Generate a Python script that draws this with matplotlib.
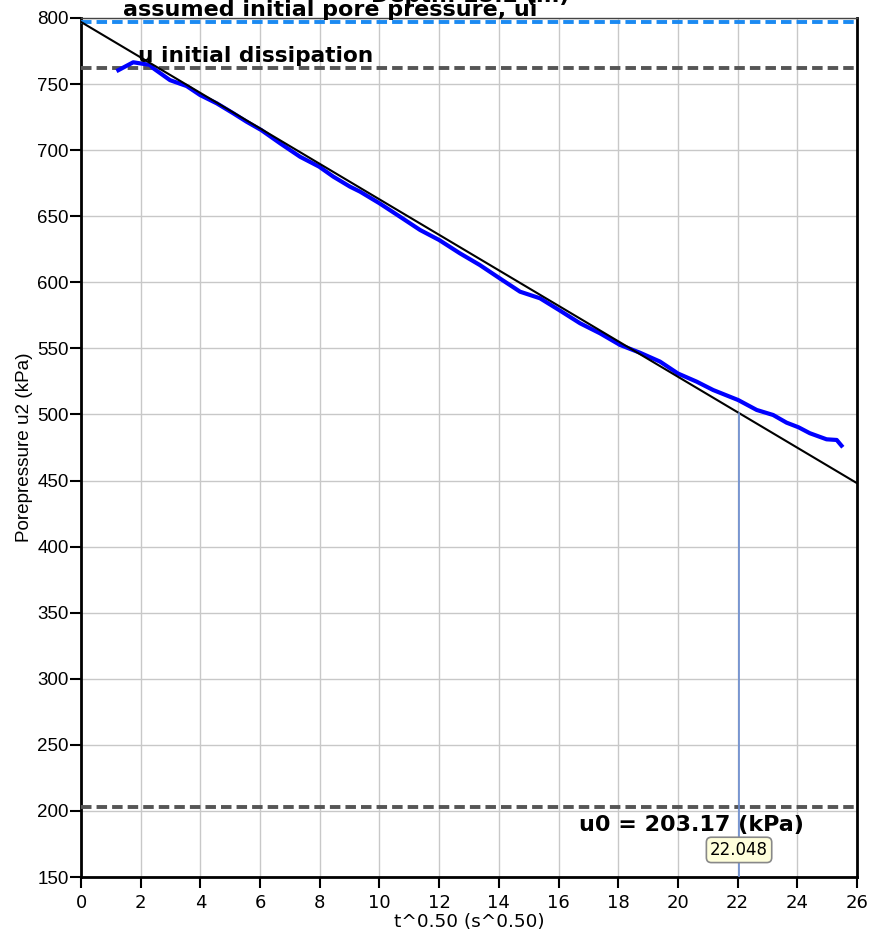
import numpy as np
import matplotlib
matplotlib.use("Agg")
import matplotlib.pyplot as plt

# Measured dissipation: time root vs. pore pressure u2
t_root = [1.25, 1.75, 2.31, 2.42, 2.98, 3.54, 3.99, 4.55, 5.10, 5.55, 6.04,
          6.67, 7.34, 7.98, 8.45, 9.01, 9.35, 10.0, 10.69, 11.36, 12.0,
          12.69, 13.36, 14.03, 14.71, 15.38, 16.02, 16.72, 17.39, 18.06,
          18.73, 19.4, 20.0, 20.63, 21.18, 22.02, 22.64, 23.19, 23.64,
          24.04, 24.42, 24.98, 25.32, 25.48]
u2 = [760.5, 766.5, 764.5, 762.0, 753.0, 748.5, 741.7, 735.4, 727.9, 721.5,
      715.2, 705.2, 695.0, 687.5, 680.0, 672.4, 668.6, 659.8, 649.6, 639.6,
      632.0, 622.0, 613.1, 603.0, 592.9, 587.9, 579.0, 569.0, 561.4, 552.6,
      546.7, 540.0, 531.0, 524.8, 518.5, 510.9, 503.4, 499.6, 493.8, 490.3,
      485.8, 481.2, 480.7, 476.4]

# Linear fit through the early dissipation
fit_t = [0.0, 26.0]
fit_u = [797.0, 448.0]

u_i = 797.0          # assumed initial pore pressure
u_init_diss = 762.5  # u initial dissipation
u0 = 203.17          # equilibrium pore pressure
t50_root = 22.048

x_ticks = list(range(0, 27, 2))
y_ticks = list(range(150, 801, 50))

fig = plt.figure(figsize=(8.72, 9.41), dpi=100)
ax = fig.add_axes([81 / 872, 64 / 941, 776 / 872, 859 / 941])

ax.set_xlim(0, 26)
ax.set_ylim(150, 800)
ax.set_xticks(x_ticks)
ax.set_yticks(y_ticks)
ax.grid(True, color="#c8c8c8", lw=1.0, zorder=0)
ax.set_axisbelow(True)

for side in ("left", "bottom", "right"):
    ax.spines[side].set_linewidth(2.0)
    ax.spines[side].set_color("black")
ax.spines["top"].set_linewidth(1.0)
ax.spines["top"].set_color("#444444")

ax.tick_params(axis="x", length=8, width=1.5, labelsize=13, pad=4)
ax.tick_params(axis="y", length=8, width=1.5, labelsize=13.5, pad=1)
for lab in ax.get_yticklabels():
    lab.set_fontfamily("Liberation Sans")
for lab in ax.get_xticklabels():
    lab.set_fontfamily("DejaVu Sans")

# Reference levels
dash = (0, (2.7, 1.3))
ax.axhline(u_i, color="#1b8af2", lw=2.8, ls=dash, zorder=3)
ax.axhline(u_init_diss, color="#555555", lw=2.8, ls=dash, zorder=3)
ax.axhline(u0, color="#555555", lw=2.8, ls=dash, zorder=3)

# Data and fitted line
ax.plot(t_root, u2, color="#0000ff", lw=3, solid_joinstyle="round", zorder=4)
ax.plot(fit_t, fit_u, color="black", lw=1.5, zorder=5)

# Marker at the chosen time root
u_at_t50 = float(np.interp(t50_root, fit_t, fit_u))
ax.plot([t50_root, t50_root], [150, u_at_t50], color="#6a8cd0", lw=1.2, zorder=5)
ax.text(t50_root, 170.5, f"{t50_root:.3f}", ha="center", va="center",
        fontsize=12, family="DejaVu Sans", zorder=6,
        bbox=dict(boxstyle="round,pad=0.22,rounding_size=0.3",
                  fc="#ffffdc", ec="#888888", lw=1.2))

# Labels on the reference levels
ax.text(1.4, u_i + 1.5, "assumed initial pore pressure, ui", ha="left",
        va="bottom", fontsize=16, fontweight="bold", family="DejaVu Sans",
        zorder=6, clip_on=False)
ax.text(1.9, u_init_diss + 1.5, "u initial dissipation", ha="left",
        va="bottom", fontsize=15.6, fontweight="bold", family="DejaVu Sans",
        zorder=6)
ax.text(16.7, u0 - 6, f"u0 = {u0:.2f} (kPa)", ha="left", va="top",
        fontsize=16, fontweight="bold", family="DejaVu Sans", zorder=6)

fig.text(470 / 872, 1.0 + 4 / 941, "Depth: 25.2 (m)", ha="center",
         va="center", fontsize=16, fontweight="bold", family="DejaVu Sans")

ax.set_xlabel("t^0.50 (s^0.50)", fontsize=13.3, family="DejaVu Sans",
              labelpad=1)
ax.set_ylabel("Porepressure u2 (kPa)", fontsize=13.6,
              family="Liberation Sans", labelpad=3)

fig.savefig("out.png", dpi=100)
